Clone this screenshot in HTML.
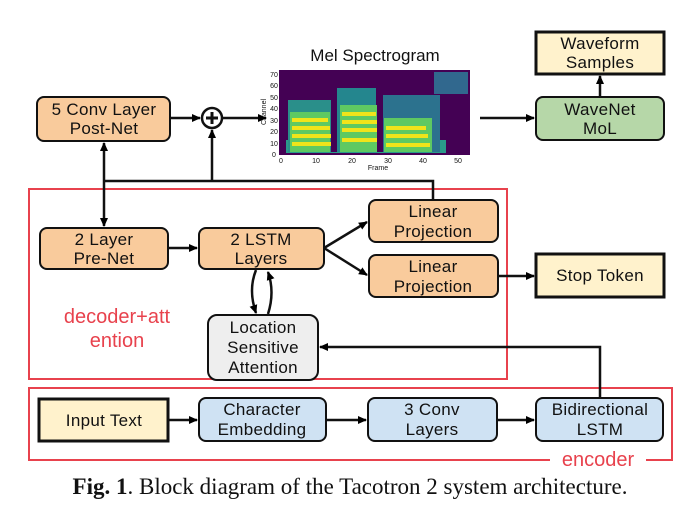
<!DOCTYPE html>
<html><head><meta charset="utf-8"><style>
html,body{margin:0;padding:0;background:#fff;}
svg{display:block;}
text{font-family:"Liberation Sans",sans-serif;}
</style></head><body>
<svg width="697" height="530" viewBox="0 0 697 530" xmlns="http://www.w3.org/2000/svg">
<defs>
<marker id="a" markerWidth="10" markerHeight="10" refX="8" refY="5" orient="auto" markerUnits="userSpaceOnUse"><path d="M0,1 L9,5 L0,9 z" fill="#000"/></marker>
<clipPath id="sc"><rect x="279" y="70" width="191" height="85"/></clipPath>
</defs>
<g font-size="17" letter-spacing="0.3" text-anchor="middle" fill="#111">
<!-- spectrogram -->
<text x="375" y="61" font-size="17" letter-spacing="0">Mel Spectrogram</text>
<rect x="279" y="70" width="191" height="85" fill="#440154"/>
<g clip-path="url(#sc)">
<rect x="286" y="140" width="170" height="13" fill="#2a9a8a"/>
<rect x="288" y="100" width="44" height="52" fill="#2a8f8a"/>
<rect x="290" y="112" width="40" height="40" fill="#5ec962"/>
<rect x="336" y="88" width="40" height="64" fill="#24868e"/>
<rect x="340" y="105" width="38" height="47" fill="#5ec962"/>
<rect x="382" y="95" width="58" height="57" fill="#2c728e"/>
<rect x="384" y="118" width="48" height="34" fill="#5ec962"/>
<rect x="434" y="72" width="34" height="22" fill="#31688e"/>
<g fill="#f0e41a">
<rect x="292" y="118" width="36" height="4"/><rect x="292" y="126" width="38" height="4"/><rect x="292" y="134" width="40" height="4"/><rect x="292" y="142" width="40" height="4"/>
<rect x="342" y="112" width="34" height="4"/><rect x="342" y="120" width="36" height="4"/><rect x="342" y="128" width="36" height="4"/><rect x="342" y="138" width="36" height="4"/>
<rect x="386" y="126" width="40" height="4"/><rect x="386" y="134" width="42" height="4"/><rect x="386" y="143" width="44" height="4"/>
</g>
<rect x="331" y="80" width="6" height="72" fill="#440154"/>
<rect x="377" y="80" width="6" height="72" fill="#440154"/>
<rect x="446" y="100" width="24" height="55" fill="#440154"/>
</g>
<g font-size="7" letter-spacing="0">
<text x="274" y="157">0</text><text x="274" y="146">10</text><text x="274" y="134">20</text><text x="274" y="123">30</text><text x="274" y="111">40</text><text x="274" y="100">50</text><text x="274" y="88">60</text><text x="274" y="77">70</text>
<text x="281" y="163">0</text><text x="316" y="163">10</text><text x="352" y="163">20</text><text x="388" y="163">30</text><text x="423" y="163">40</text><text x="458" y="163">50</text>
<text x="378" y="170">Frame</text>
<text x="266" y="112" transform="rotate(-90 266 112)">Channel</text>
</g>

<!-- top row -->
<rect x="37" y="97" width="133" height="44" rx="7" fill="#f9cb9c" stroke="#111" stroke-width="2"/>
<text x="104" y="115">5 Conv Layer</text><text x="104" y="134">Post-Net</text>
<circle cx="212" cy="118" r="10" fill="#fff" stroke="#111" stroke-width="2.5"/>
<path d="M206,118 H218 M212,112 V124" stroke="#111" stroke-width="3"/>
<rect x="536" y="32" width="128" height="42" fill="#fff2cc" stroke="#111" stroke-width="3"/>
<text x="600" y="49">Waveform</text><text x="600" y="68">Samples</text>
<rect x="536" y="97" width="128" height="43" rx="7" fill="#b6d7a8" stroke="#111" stroke-width="2"/>
<text x="600" y="115">WaveNet</text><text x="600" y="134">MoL</text>

<!-- decoder -->
<rect x="29" y="189" width="478" height="190" fill="none" stroke="#e8424d" stroke-width="2"/>
<rect x="40" y="228" width="128" height="41" rx="7" fill="#f9cb9c" stroke="#111" stroke-width="2"/>
<text x="104" y="245">2 Layer</text><text x="104" y="264">Pre-Net</text>
<rect x="199" y="228" width="125" height="41" rx="7" fill="#f9cb9c" stroke="#111" stroke-width="2"/>
<text x="261" y="245">2 LSTM</text><text x="261" y="264">Layers</text>
<rect x="369" y="200" width="129" height="42" rx="7" fill="#f9cb9c" stroke="#111" stroke-width="2"/>
<text x="433" y="217">Linear</text><text x="433" y="237">Projection</text>
<rect x="369" y="255" width="129" height="42" rx="7" fill="#f9cb9c" stroke="#111" stroke-width="2"/>
<text x="433" y="272">Linear</text><text x="433" y="292">Projection</text>
<rect x="208" y="315" width="110" height="65" rx="9" fill="#eeeeee" stroke="#111" stroke-width="2"/>
<text x="263" y="333">Location</text><text x="263" y="353">Sensitive</text><text x="263" y="373">Attention</text>
<rect x="536" y="254" width="128" height="43" fill="#fff2cc" stroke="#111" stroke-width="3"/>
<text x="600" y="281">Stop Token</text>
<text x="117" y="323" font-size="20" letter-spacing="0" fill="#e8424d">decoder+att</text>
<text x="117" y="347" font-size="20" letter-spacing="0" fill="#e8424d">ention</text>

<!-- encoder -->
<rect x="29" y="388" width="643" height="72" fill="none" stroke="#e8424d" stroke-width="2"/>
<rect x="39" y="399" width="129" height="42" fill="#fff2cc" stroke="#111" stroke-width="3"/>
<text x="104" y="426">Input Text</text>
<rect x="199" y="398" width="127" height="43" rx="7" fill="#cfe2f3" stroke="#111" stroke-width="2"/>
<text x="262" y="415">Character</text><text x="262" y="435">Embedding</text>
<rect x="368" y="398" width="129" height="43" rx="7" fill="#cfe2f3" stroke="#111" stroke-width="2"/>
<text x="432" y="415">3 Conv</text><text x="432" y="435">Layers</text>
<rect x="536" y="398" width="127" height="43" rx="7" fill="#cfe2f3" stroke="#111" stroke-width="2"/>
<text x="600" y="415">Bidirectional</text><text x="600" y="435">LSTM</text>
<rect x="550" y="449" width="96" height="22" fill="#fff"/>
<text x="598" y="466" font-size="20" letter-spacing="0" fill="#e8424d">encoder</text>

<text x="350" y="494" font-size="23" letter-spacing="0" style="font-family:'Liberation Serif',serif"><tspan font-weight="bold">Fig. 1</tspan>. Block diagram of the Tacotron 2 system architecture.</text>
</g>

<!-- connectors -->
<g stroke="#111" stroke-width="2.5" fill="none">
<path d="M433,200 V181 H104"/>
<path d="M104,181 V143" marker-end="url(#a)"/>
<path d="M104,181 V226" marker-end="url(#a)"/>
<path d="M212,181 V130" marker-end="url(#a)"/>
<path d="M170,118 H200" marker-end="url(#a)"/>
<path d="M222,118 H266" marker-end="url(#a)"/>
<path d="M480,118 H534" marker-end="url(#a)"/>
<path d="M600,97 V76" marker-end="url(#a)"/>
<path d="M168,248 H197" marker-end="url(#a)"/>
<path d="M324,248 L367,222" marker-end="url(#a)"/>
<path d="M324,248 L367,275" marker-end="url(#a)"/>
<path d="M498,276 H534" marker-end="url(#a)"/>
<path d="M256,270 Q248,290 256,313" marker-end="url(#a)"/>
<path d="M268,314 Q275,292 268,272" marker-end="url(#a)"/>
<path d="M600,398 V347 H320" marker-end="url(#a)"/>
<path d="M168,420 H197" marker-end="url(#a)"/>
<path d="M326,420 H366" marker-end="url(#a)"/>
<path d="M497,420 H534" marker-end="url(#a)"/>
</g>
</svg>
</body></html>
